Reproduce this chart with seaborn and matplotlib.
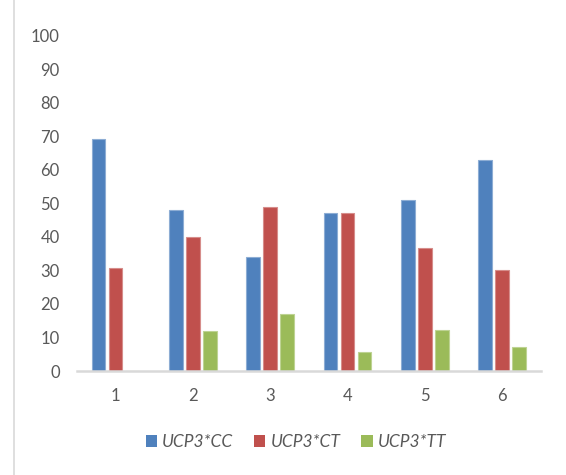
import matplotlib
matplotlib.use("Agg")
import matplotlib.pyplot as plt
from matplotlib.colors import to_rgb
from matplotlib.patches import Rectangle
import numpy as np
import pandas as pd
import seaborn as sns

# Genotype frequencies (%) per group
groups = ["1", "2", "3", "4", "5", "6"]
ucp3_cc = [69.2, 48.0, 34.0, 47.1, 50.9, 62.9]
ucp3_ct = [30.8, 40.0, 48.9, 47.1, 36.8, 30.0]
ucp3_tt = [0.0, 12.0, 17.1, 5.8, 12.3, 7.1]
series_names = ["UCP3*CC", "UCP3*CT", "UCP3*TT"]
colors = ["#4F81BD", "#C0504D", "#9BBB59"]

df = pd.DataFrame({
    "group": groups * 3,
    "genotype": [s for s in series_names for _ in groups],
    "value": ucp3_cc + ucp3_ct + ucp3_tt,
})

sns.set_style("white")
plt.rcParams["font.family"] = ["Lato", "DejaVu Sans"]

text_color = "#595959"
line_color = "#D9D9D9"

fig = plt.figure(figsize=(5.66, 4.75), dpi=100)
ax = fig.add_axes([77 / 566, 1 - 371 / 475, (540.7 - 77) / 566, (371 - 35.7) / 475])

sns.barplot(data=df, x="group", y="value", hue="genotype", order=groups,
            hue_order=series_names, palette=colors, width=0.66, gap=0.2,
            saturation=1, ax=ax, legend=True)

# lighter outline around each bar
for patch in ax.patches:
    r, g, b = to_rgb(patch.get_facecolor())
    edge = tuple(c + (1 - c) * 0.35 for c in (r, g, b))
    patch.set_edgecolor(edge)
    patch.set_linewidth(0.8)

ax.set_ylim(0, 100)
ax.set_yticks(np.arange(0, 101, 10))
ax.set_xlabel("")
ax.set_ylabel("")
ax.tick_params(axis="both", length=0, labelsize=12, labelcolor=text_color)
ax.tick_params(axis="y", pad=12.5)
ax.tick_params(axis="x", pad=12.5)

for side in ["top", "right", "left"]:
    ax.spines[side].set_visible(False)
ax.spines["bottom"].set_color(line_color)
ax.spines["bottom"].set_linewidth(1.8)

handles, labels = ax.get_legend_handles_labels()
ax.get_legend().remove()
leg = fig.legend(handles, labels, loc="center", bbox_to_anchor=(296 / 566, 1 - 442 / 475),
                 ncol=3, frameon=False, handlelength=0.65, handleheight=0.65,
                 handletextpad=0.3, columnspacing=1.2, fontsize=12.5)
for t in leg.get_texts():
    t.set_color(text_color)
    t.set_fontstyle("italic")
for h in leg.legend_handles:
    h.set_edgecolor("none")

# chart area border
fig.patches.append(Rectangle((14 / 566, -0.2), 1.2, 1.2 + (1 - 7 / 475),
                             transform=fig.transFigure, fill=False,
                             edgecolor=line_color, linewidth=1.2))

fig.savefig("out.png", dpi=100)
